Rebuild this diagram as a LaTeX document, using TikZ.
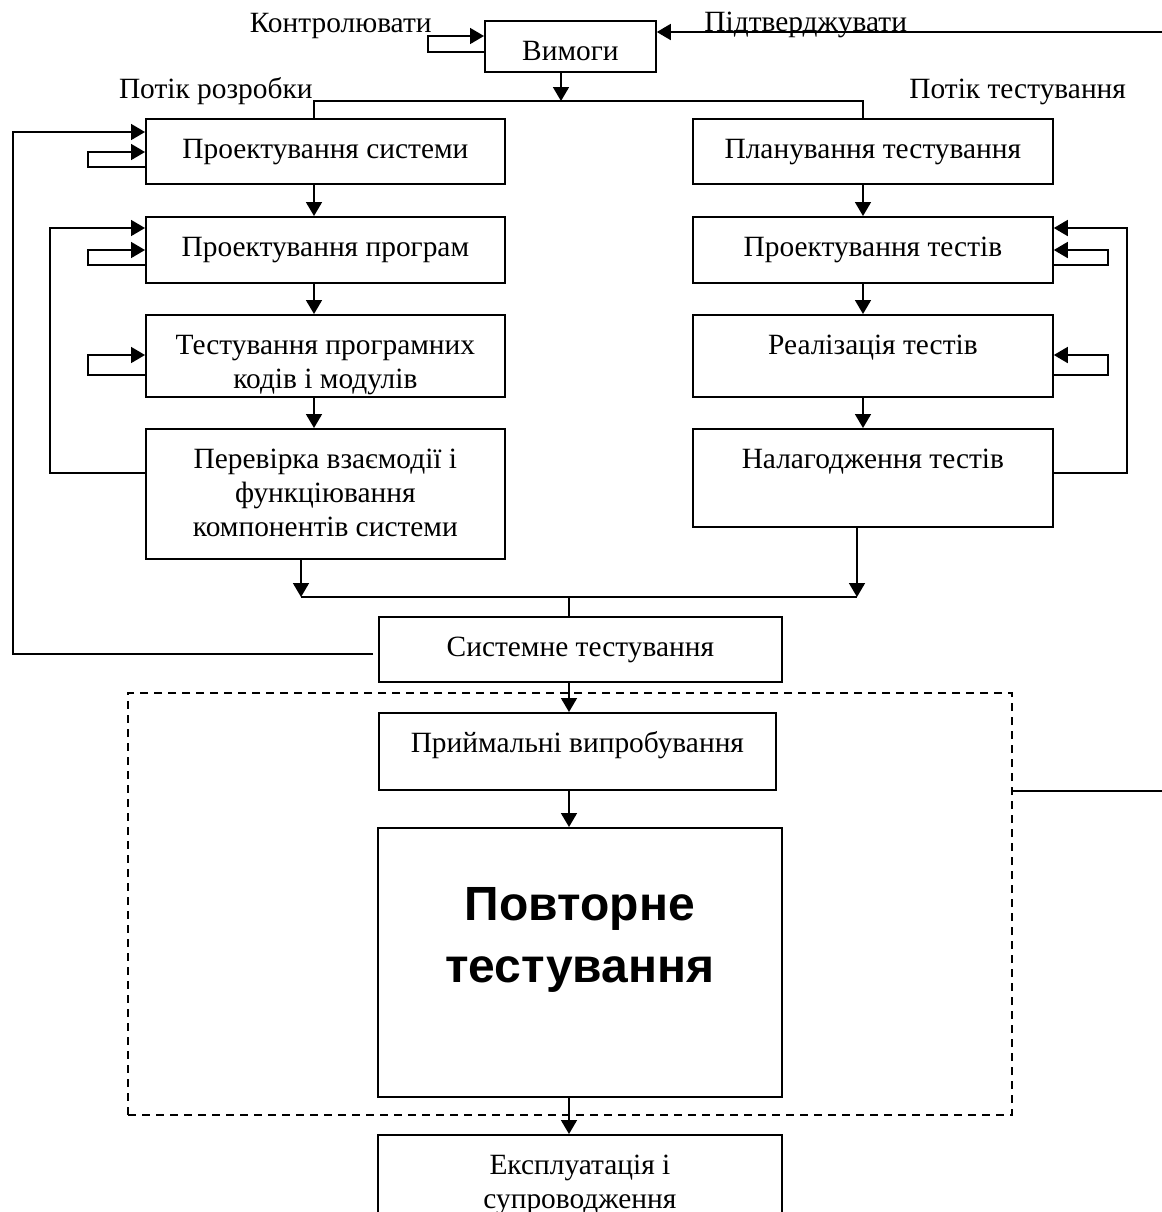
\documentclass[tikz,border=0pt]{standalone}
\usepackage{fontspec}
\setmainfont{Liberation Serif}
\newfontfamily\boldsans{Liberation Sans}
\usetikzlibrary{arrows.meta, fit}

\tikzset{
blk/.style 2 args={draw, line width=0.9pt, anchor=north west, inner sep=0pt, align=center, text height=20pt, minimum width=#1, text depth=#2},
lbl/.style={inner sep=0pt},
arr/.style={-{Triangle[length=7pt,width=8pt]}, line width=0.85pt},
ln/.style={line width=0.85pt},
grp/.style={draw, dash pattern=on 4pt off 3pt, line width=0.6pt, inner sep=0pt}
}

\begin{document}
\begin{tikzpicture}[x=0.5pt, y=-0.5pt, every node/.style={font=\fontsize{14.7}{16.8}\selectfont}]

\useasboundingbox (0,0) rectangle (1162,1212);

\coordinate (devx) at (314,0);
\coordinate (tstx) at (863,0);
\coordinate (split) at (561,101);
\coordinate (jl) at (301,597);
\coordinate (jr) at (857,597);
\coordinate (join) at (569,597);
\coordinate (gNW) at (128,693);
\coordinate (gSE) at (1012,1115);

\node[blk={85.5pt}{5.5pt}] (req) at (484,20) {Вимоги};

\node[blk={179.5pt}{12.5pt}] (sysdes) at (145,118) {Проектування системи};
\node[blk={179.5pt}{13pt}] (progdes) at (145,216) {Проектування програм};
\node[blk={179.5pt}{4.2pt}, text height=36.8pt] (unittest) at (145,314) {Тестування програмних\\кодів і модулів};
\node[blk={179.5pt}{11.4pt}, text height=53.6pt] (integ) at (145,428) {Перевірка взаємодії і\\функціювання\\компонентів системи};

\node[blk={180pt}{12.5pt}] (testplan) at (692,118) {Планування тестування};
\node[blk={180pt}{13pt}] (testdes) at (692,216) {Проектування тестів};
\node[blk={180pt}{21pt}] (testimpl) at (692,314) {Реалізація тестів};
\node[blk={180pt}{29pt}] (testdbg) at (692,428) {Налагодження тестів};

\node[blk={201.5pt}{12.5pt}] (systest) at (378,616) {Системне тестування};
\node[grp, fit=(gNW)(gSE)] (retest) {};
\node[blk={198.5pt}{18.5pt}] (accept) at (378,712) {Приймальні випробування};
\node[blk={202pt}{57pt}, text height=77.5pt, font=\boldsans\bfseries\fontsize{24}{31}\selectfont] (regress) at (377,827) {Повторне\\тестування};
\node[blk={202pt}{18.2pt}, text height=36.8pt] (maint) at (377,1134) {Експлуатація і\\супроводження};

\node[lbl, anchor=base east] (ctl) at (432,32) {Контролювати};
\node[lbl, anchor=base west] (cnf) at (704,31) {Підтверджувати};
\node[lbl, anchor=base east] (devflow) at (313,98) {Потік розробки};
\node[lbl, anchor=base west] (tstflow) at (909,98) {Потік тестування};

\draw[arr] (req.west |- 0,52) -| (428,36) -- (req.west |- 0,36);
\draw[arr] (retest.east |- accept.south) -| (1175,32) -- (req.east |- 0,32);

\draw[arr] (req.south -| split) -- (split);
\draw[ln] (sysdes.north -| devx) |- (split) -| (testplan.north -| tstx);

\foreach \a/\b in {sysdes/progdes, progdes/unittest, unittest/integ}
  \draw[arr] (\a.south -| devx) -- (\b.north -| devx);
\foreach \a/\b in {testplan/testdes, testdes/testimpl, testimpl/testdbg}
  \draw[arr] (\a.south -| tstx) -- (\b.north -| tstx);

\foreach \n/\ya/\yb in {sysdes/152/167, progdes/250/265, unittest/355/375}
  \draw[arr] (\n.west |- 0,\yb) -| (88,\ya) -- (\n.west |- 0,\ya);
\foreach \n/\ya/\yb in {testdes/250/265, testimpl/355/375}
  \draw[arr] (\n.east |- 0,\yb) -| (1108,\ya) -- (\n.east |- 0,\ya);

\draw[arr] (integ.west |- 0,473) -| (50,228) -- (progdes.west |- 0,228);
\draw[arr] (testdbg.east |- 0,473) -| (1127,228) -- (testdes.east |- 0,228);
\draw[arr, shorten <=2.5pt] (systest.west |- 0,654) -| (13,132) -- (sysdes.west |- 0,132);

\draw[arr] (integ.south -| jl) -- (jl);
\draw[arr] (testdbg.south -| jr) -- (jr);
\draw[ln] (jl) -- (jr);
\draw[ln] (join) -- (systest.north -| join);

\draw[arr] (systest.south -| join) -- (accept.north -| join);
\draw[arr] (accept.south -| join) -- (regress.north -| join);
\draw[arr] (regress.south -| join) -- (maint.north -| join);

\end{tikzpicture}
\end{document}
